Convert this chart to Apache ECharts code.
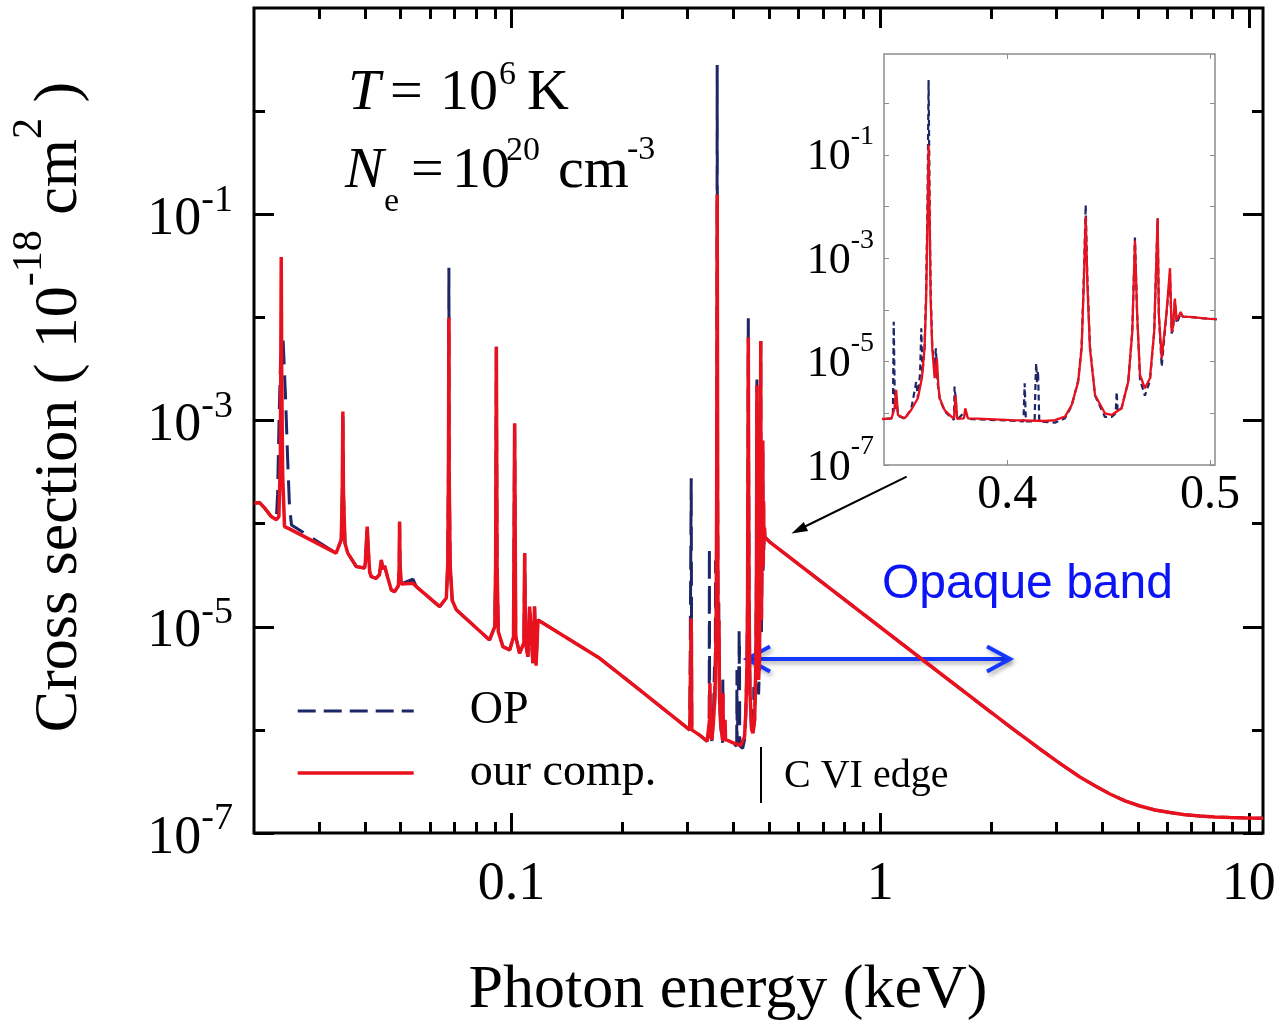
<!DOCTYPE html>
<html>
<head>
<meta charset="utf-8">
<title>Cross section vs photon energy</title>
<script src="https://cdn.jsdelivr.net/npm/echarts@6/dist/echarts.min.js"></script>
<style>
html, body { margin: 0; padding: 0; background: #fff; }
#chart { width: 1281px; height: 1026px; }
</style>
</head>
<body>
<div id="chart"></div>
<script>
// Photo-absorption cross section of carbon plasma (T = 1e6 K, Ne = 1e20 cm^-3).
// Energies in keV, cross sections in units of 1e-18 cm^2.

// ---- "our comp." (red, solid) ----
const ourBelowCK = [
  [0.02006, 1.58e-4], [0.0207, 1.60e-4], [0.02136, 1.42e-4], [0.02228, 1.17e-4], [0.02299, 1.09e-4],
  [0.02336, 1.17e-4], [0.02358, 4.0e-4], [0.02364, 3.0e-3], [0.02371, 3.86e-2], [0.02378, 3.0e-3],
  [0.02392, 3.0e-4], [0.0242, 9.35e-5], [0.02496, 8.9e-5], [0.0334, 5.17e-5],
  [0.0345, 7.0e-5], [0.03472, 2.0e-4], [0.03484, 1.22e-3], [0.03497, 2.0e-4], [0.0353, 6.5e-5],
  [0.0359, 5.2e-5], [0.0379, 3.83e-5], [0.0399, 3.72e-5],
  [0.0401, 4.2e-5], [0.0404, 7.0e-5], [0.04057, 9.35e-5], [0.0408, 6.0e-5], [0.0412, 3.4e-5],
  [0.0416, 3.06e-5], [0.0429, 2.95e-5], [0.0438, 3.2e-5], [0.04428, 4.45e-5], [0.0448, 3.6e-5],
  [0.04521, 3.9e-5], [0.04617, 2.95e-5], [0.04715, 2.28e-5], [0.04814, 2.19e-5],
  [0.0493, 2.5e-5], [0.04955, 4.0e-5], [0.04966, 1.045e-4], [0.0498, 4.0e-5], [0.0502, 2.6e-5],
  [0.05069, 2.54e-5], [0.05398, 2.64e-5], [0.05513, 2.45e-5], [0.0638, 1.57e-5],
  [0.0665, 1.9e-5], [0.0671, 4.0e-5], [0.0674, 3.0e-4], [0.06758, 9.9e-3], [0.0677, 3.0e-4],
  [0.0681, 4.0e-5], [0.069, 1.8e-5], [0.07079, 1.46e-5], [0.0871, 7.45e-6],
  [0.09, 1.0e-5], [0.0905, 4.0e-5], [0.0909, 5.18e-3], [0.0913, 4.0e-5], [0.092, 9.0e-6],
  [0.0947, 6.41e-6], [0.0988, 5.96e-6],
  [0.1012, 8.0e-6], [0.1019, 9.42e-4], [0.1026, 8.0e-6], [0.1051, 5.53e-6],
  [0.108, 7.0e-6], [0.1085, 5.17e-5], [0.1091, 7.0e-6], [0.1107, 5.13e-6], [0.1119, 1.57e-5],
  [0.1142, 4.43e-6], [0.1154, 1.57e-5], [0.1165, 4.2e-6], [0.1179, 1.165e-5],
  [0.1734, 4.94e-6], [0.2225, 2.44e-6], [0.3043, 9.98e-7],
  [0.306, 1.0e-6], [0.3071, 1.21e-5], [0.3082, 1.0e-6], [0.3237, 8.9e-7]
];
const ourCK = [
  [0.3392, 7.76e-7], [0.3429, 8.0e-7], [0.3444, 1.25e-6], [0.3452, 2.83e-6], [0.3461, 9.27e-7],
  [0.3494, 8.0e-7], [0.3526, 1.16e-6], [0.3559, 1.95e-6], [0.3579, 4.8e-6], [0.3592, 1.82e-5],
  [0.36, 1.66e-4], [0.3607, 6.86e-3], [0.3612, 0.155], [0.3617, 6.9e-3], [0.3622, 1.66e-4],
  [0.363, 1.82e-5], [0.3642, 4.8e-6], [0.3653, 1.15e-5], [0.366, 3.5e-6], [0.3667, 1.95e-6],
  [0.3691, 1.15e-6], [0.3724, 8.6e-7], [0.3737, 8.0e-7], [0.3745, 2.26e-6], [0.3753, 7.8e-7],
  [0.3786, 8.0e-7], [0.3793, 1.25e-6], [0.3806, 8.0e-7], [0.3855, 7.9e-7], [0.402, 7.4e-7],
  [0.4186, 7.1e-7], [0.4235, 7.4e-7], [0.4285, 8.6e-7], [0.4318, 1.45e-6], [0.435, 4.1e-6],
  [0.4367, 1.81e-5], [0.4378, 3.5e-4], [0.4387, 6.38e-3], [0.4395, 3.5e-4], [0.4408, 1.81e-5],
  [0.4433, 2.26e-6], [0.4482, 1.0e-6], [0.4515, 9.3e-7], [0.4564, 1.25e-6], [0.4597, 4.1e-6],
  [0.4617, 3.8e-5], [0.463, 2.2e-3], [0.4641, 8.0e-5], [0.4655, 5.5e-6], [0.4679, 3.05e-6],
  [0.4704, 4.75e-6], [0.4725, 3.8e-5], [0.4742, 5.9e-3], [0.4748, 8.0e-5], [0.4762, 1.16e-5],
  [0.4785, 8.0e-5], [0.4803, 6.4e-4], [0.4811, 3.8e-5], [0.4818, 4.7e-5], [0.4827, 1.65e-4],
  [0.4836, 6.3e-5], [0.4845, 6.3e-5], [0.4856, 9.1e-5], [0.4866, 7.4e-5], [0.49, 7.3e-5],
  [0.5, 6.7e-5]
];

// ---- OP (navy, dashed) ----
const opBelowCK = [
  [0.02006, 1.58e-4], [0.0207, 1.60e-4], [0.02136, 1.42e-4], [0.02228, 1.17e-4], [0.02299, 1.09e-4],
  [0.02317, 1.9e-4], [0.02339, 1.0e-3], [0.02361, 3.9e-3], [0.02399, 6.05e-3], [0.02437, 1.58e-3],
  [0.02468, 4.2e-4], [0.02496, 1.5e-4], [0.02528, 9.7e-5], [0.0271, 8.3e-5], [0.0334, 5.17e-5],
  [0.0345, 7.0e-5], [0.03472, 2.0e-4], [0.03484, 1.22e-3], [0.03497, 2.0e-4], [0.0353, 6.5e-5],
  [0.0359, 5.2e-5], [0.0379, 3.83e-5], [0.0399, 3.72e-5],
  [0.0401, 4.2e-5], [0.0404, 7.0e-5], [0.04057, 9.35e-5], [0.0408, 6.0e-5], [0.0412, 3.4e-5],
  [0.0416, 3.06e-5], [0.0429, 2.95e-5], [0.0438, 3.2e-5], [0.04428, 4.45e-5], [0.0448, 3.6e-5],
  [0.04521, 3.9e-5], [0.04617, 2.95e-5], [0.04715, 2.28e-5], [0.04814, 2.19e-5],
  [0.0493, 2.5e-5], [0.04955, 4.0e-5], [0.04966, 1.045e-4], [0.0498, 4.0e-5], [0.0502, 2.6e-5],
  [0.05069, 2.54e-5], [0.05398, 2.9e-5], [0.05513, 2.45e-5], [0.0638, 1.57e-5],
  [0.0665, 1.9e-5], [0.0671, 4.0e-5], [0.0674, 4.0e-4], [0.06758, 3.02e-2], [0.0677, 4.0e-4],
  [0.0681, 4.0e-5], [0.069, 1.8e-5], [0.07079, 1.46e-5], [0.0871, 7.45e-6],
  [0.09, 1.0e-5], [0.0905, 4.0e-5], [0.0909, 5.18e-3], [0.0913, 4.0e-5], [0.092, 9.0e-6],
  [0.0947, 6.41e-6], [0.0988, 5.96e-6],
  [0.1012, 8.0e-6], [0.1019, 9.42e-4], [0.1026, 8.0e-6], [0.1051, 5.53e-6],
  [0.108, 7.0e-6], [0.1085, 5.17e-5], [0.1091, 7.0e-6], [0.1107, 5.13e-6], [0.1119, 1.57e-5],
  [0.1142, 4.43e-6], [0.1154, 1.57e-5], [0.1165, 4.2e-6], [0.1179, 1.165e-5],
  [0.1734, 4.94e-6], [0.2225, 2.44e-6], [0.3043, 9.98e-7],
  [0.306, 1.0e-6], [0.3071, 2.75e-4], [0.3082, 1.0e-6], [0.3237, 8.9e-7]
];
const opCK = [
  [0.3392, 7.76e-7], [0.343, 8.0e-7], [0.3436, 1.0e-6], [0.344, 5.9e-5], [0.3446, 1.2e-6],
  [0.3452, 2.5e-6], [0.3461, 9.0e-7], [0.3494, 7.8e-7], [0.3526, 1.2e-6], [0.3545, 3.0e-6],
  [0.3551, 4.1e-6], [0.3559, 2.0e-6], [0.357, 6.0e-6], [0.3576, 4.4e-5], [0.3582, 6.0e-6],
  [0.3592, 1.82e-5], [0.36, 2.5e-4], [0.3607, 1.5e-2], [0.3612, 2.8], [0.3617, 1.5e-2],
  [0.3622, 2.5e-4], [0.363, 2.0e-5], [0.3642, 8.0e-6], [0.3648, 1.8e-5], [0.3656, 4.0e-6],
  [0.3667, 1.9e-6], [0.3691, 1.1e-6], [0.3724, 8.2e-7], [0.3737, 7.5e-7], [0.374, 3.3e-6],
  [0.3745, 2.0e-6], [0.3753, 7.5e-7], [0.3793, 1.1e-6], [0.3806, 7.8e-7], [0.3855, 7.6e-7],
  [0.402, 7.2e-7], [0.408, 7.0e-7], [0.4086, 3.8e-6], [0.4092, 7.0e-7], [0.4135, 7.0e-7],
  [0.414, 5.0e-6], [0.4143, 9.3e-6], [0.4147, 4.0e-6], [0.4152, 6.5e-6], [0.4158, 7.0e-7],
  [0.4186, 6.8e-7], [0.4235, 6.6e-7], [0.4285, 8.0e-7], [0.4318, 1.4e-6], [0.435, 4.3e-6],
  [0.4367, 2.0e-5], [0.4378, 4.5e-4], [0.4387, 1.07e-2], [0.4395, 4.5e-4], [0.4408, 2.0e-5],
  [0.4433, 2.2e-6], [0.4482, 8.5e-7], [0.4515, 8.5e-7], [0.4535, 1.0e-6], [0.454, 2.6e-6],
  [0.4545, 1.1e-6], [0.4564, 1.25e-6], [0.4597, 4.1e-6], [0.4617, 4.0e-5], [0.463, 2.5e-3],
  [0.4641, 8.0e-5], [0.4655, 4.5e-6], [0.4679, 2.2e-6], [0.4704, 4.2e-6], [0.4725, 3.8e-5],
  [0.4742, 5.9e-3], [0.4748, 8.0e-5], [0.4762, 8.0e-6], [0.4785, 8.0e-5], [0.4803, 5.0e-4],
  [0.4811, 3.5e-5], [0.4818, 4.2e-5], [0.4827, 1.5e-4], [0.4836, 5.5e-5], [0.4845, 5.8e-5],
  [0.4856, 8.5e-5], [0.4866, 7.4e-5], [0.49, 7.3e-5], [0.5, 6.7e-5]
];

// Above the C VI edge both calculations coincide.
const aboveEdge = [
  [1.451, 3.56e-6], [1.984, 1.508e-6], [2.319, 9.87e-7], [2.712, 6.53e-7], [3.073, 4.73e-7],
  [3.482, 3.49e-7], [3.824, 2.87e-7], [4.201, 2.39e-7], [4.613, 2.052e-7], [5.068, 1.827e-7],
  [5.564, 1.671e-7], [6.111, 1.58e-7], [6.711, 1.503e-7], [7.371, 1.462e-7], [8.096, 1.429e-7],
  [8.89, 1.413e-7], [9.827, 1.401e-7], [10.93, 1.388e-7]
];

// ---- axes ----
const energyRange = [0.02, 10.93];
const sigmaRange = [1e-7, 10];
const majorEnergyTicks = [0.1, 1, 10];
const minorEnergyTicks = [0.03, 0.04, 0.05, 0.06, 0.07, 0.08, 0.09,
  0.2, 0.3, 0.4, 0.5, 0.6, 0.7, 0.8, 0.9, 2, 3, 4, 5, 6, 7, 8, 9];
const labelledDecades = [-7, -5, -3, -1];
const unlabelledDecades = [-6, -4, -2, 0];

const insetEnergyRange = [0.3392, 0.5025];
const insetSigmaRange = [1e-7, 8.9];
const insetEnergyTicks = [0.4, 0.5];
const insetDecadeTicks = [-7, -6, -5, -4, -3, -2, -1, 0];

const SERIF = '"Liberation Serif", "Times New Roman", serif';
const SANS = '"Liberation Sans", Arial, sans-serif';
const RED = '#e8111d';
const NAVY = '#1d2768';
const lg = Math.log10;

const ours = ourBelowCK.concat(ourCK, aboveEdge);
const op = opBelowCK.concat(opCK, aboveEdge);
const logLog = arr => arr.map(p => [lg(p[0]), lg(p[1])]);
const linLog = arr => arr.map(p => [p[0], lg(p[1])]);

// "10" with a raised exponent: the base token is anchored to the bottom of a
// tall line, the exponent to its top.
function powerLabel(baseSize, supSize, lift) {
  return {
    b: { fontFamily: SERIF, fontSize: baseSize, lineHeight: lift + baseSize / 2 + supSize / 2, verticalAlign: 'bottom', color: '#000' },
    s: { fontFamily: SERIF, fontSize: supSize, lineHeight: supSize, verticalAlign: 'top', color: '#000' }
  };
}
const powerFormatter = v => '{b|10}{s|' + Math.round(v) + '}';

const noLine = { show: false, onZero: false };

function mainX(position, ticks, len, labels) {
  return {
    type: 'value', gridIndex: 0, position,
    min: lg(energyRange[0]), max: lg(energyRange[1]),
    axisLine: noLine, splitLine: { show: false },
    axisTick: { show: true, inside: true, length: len, lineStyle: { color: '#000', width: 3 }, customValues: ticks.map(lg) },
    axisLabel: labels ? {
      show: true, customValues: ticks.map(lg), margin: 25,
      formatter: v => String(parseFloat(Math.pow(10, v).toPrecision(3))),
      fontFamily: SERIF, fontSize: 54, lineHeight: 54, color: '#000'
    } : { show: false }
  };
}
function mainY(position, ticks, len, labels) {
  return {
    type: 'value', gridIndex: 0, position,
    min: lg(sigmaRange[0]), max: lg(sigmaRange[1]),
    axisLine: noLine, splitLine: { show: false },
    axisTick: { show: true, inside: true, length: len, lineStyle: { color: '#000', width: 3 }, customValues: ticks },
    axisLabel: labels ? {
      show: true, customValues: ticks, margin: 21,
      formatter: powerFormatter, rich: powerLabel(54, 38, 19)
    } : { show: false }
  };
}
function insetX(position, labels) {
  return {
    type: 'value', gridIndex: 1, position,
    min: insetEnergyRange[0], max: insetEnergyRange[1],
    axisLine: noLine, splitLine: { show: false },
    axisTick: { show: true, inside: true, length: 5, lineStyle: { color: '#8c8c8c', width: 1 }, customValues: insetEnergyTicks },
    axisLabel: labels ? {
      show: true, customValues: insetEnergyTicks, margin: 6,
      formatter: v => v.toFixed(1),
      fontFamily: SERIF, fontSize: 48, lineHeight: 48, color: '#000'
    } : { show: false }
  };
}
function insetY(position, labels) {
  return {
    type: 'value', gridIndex: 1, position,
    min: lg(insetSigmaRange[0]), max: lg(insetSigmaRange[1]),
    axisLine: noLine, splitLine: { show: false },
    axisTick: { show: true, inside: true, length: 5, lineStyle: { color: '#8c8c8c', width: 1 }, customValues: insetDecadeTicks },
    axisLabel: labels ? {
      show: true, customValues: labelledDecades, margin: 10, padding: [0, 0, 7, 0],
      formatter: powerFormatter, rich: powerLabel(44, 28, 21)
    } : { show: false }
  };
}

function txt(x, y, text, size, extra) {
  return {
    type: 'text', x, y, z: 100,
    style: Object.assign({ text, fontFamily: SERIF, fontSize: size, fill: '#000', align: 'left', verticalAlign: 'middle' }, extra || {})
  };
}

const arrowShadow = { shadowBlur: 4, shadowColor: 'rgba(0,0,0,0.3)', shadowOffsetX: 2, shadowOffsetY: 3 };

const chart = echarts.init(document.getElementById('chart'), null, { renderer: 'canvas' });
chart.setOption({
  animation: false,
  backgroundColor: '#fff',
  grid: [
    { left: 254, top: 8, width: 1009, height: 825, show: true, borderColor: '#000', borderWidth: 3, backgroundColor: 'transparent', outerBoundsMode: 'none' },
    { left: 884, top: 54, width: 331, height: 411, show: true, borderColor: '#8c8c8c', borderWidth: 1.5, backgroundColor: '#fff', outerBoundsMode: 'none' }
  ],
  xAxis: [
    mainX('bottom', majorEnergyTicks, 20, true),
    mainX('bottom', minorEnergyTicks, 11, false),
    mainX('top', majorEnergyTicks, 20, false),
    mainX('top', minorEnergyTicks, 11, false),
    insetX('bottom', true),
    insetX('top', false)
  ],
  yAxis: [
    mainY('left', labelledDecades, 20, true),
    mainY('left', unlabelledDecades, 11, false),
    mainY('right', labelledDecades, 20, false),
    mainY('right', unlabelledDecades, 11, false),
    insetY('left', true),
    insetY('right', false)
  ],
  legend: {
    left: 291, top: 683, orient: 'vertical',
    itemWidth: 116, itemHeight: 14, itemGap: 16, selectedMode: false,
    itemStyle: { color: 'rgba(0,0,0,0)', borderWidth: 0 },
    data: [
      { name: 'OP', lineStyle: { type: [18, 8], width: 3, color: NAVY } },
      { name: 'our comp.', lineStyle: { width: 3.4, color: RED } }
    ],
    formatter: name => '{g|}{t|' + name + '}',
    textStyle: {
      fontFamily: SERIF, fontSize: 46, lineHeight: 46, color: '#000',
      rich: { g: { width: 51 }, t: { fontFamily: SERIF, fontSize: 46, lineHeight: 46, color: '#000' } }
    }
  },
  series: [
    {
      name: 'OP', type: 'line', xAxisIndex: 0, yAxisIndex: 0, data: logLog(op),
      symbol: 'none', silent: true, z: 2,
      lineStyle: { color: NAVY, width: 3, type: [24, 11] }
    },
    {
      name: 'our comp.', type: 'line', xAxisIndex: 0, yAxisIndex: 0, data: logLog(ours),
      symbol: 'none', silent: true, z: 3,
      lineStyle: { color: RED, width: 3.5 }
    },
    {
      name: 'OP', type: 'line', xAxisIndex: 4, yAxisIndex: 4, data: linLog(op),
      symbol: 'none', silent: true, z: 4,
      lineStyle: { color: NAVY, width: 2.2, type: [6, 4] }
    },
    {
      name: 'our comp.', type: 'line', xAxisIndex: 4, yAxisIndex: 4, data: linLog(ours),
      symbol: 'none', silent: true, z: 5,
      lineStyle: { color: RED, width: 2.3 }
    }
  ],
  graphic: [
    // axis titles
    txt(728, 991, 'Photon energy (keV)', 62, { align: 'center' }),
    {
      type: 'text', x: 50, y: 407, rotation: Math.PI / 2, z: 100,
      style: {
        text: '{b|Cross section ( 10}{s|-18}{b| cm}{s|2}{b| )}',
        align: 'center', verticalAlign: 'middle',
        rich: {
          b: { fontFamily: SERIF, fontSize: 62, lineHeight: 82, verticalAlign: 'bottom', fill: '#000' },
          s: { fontFamily: SERIF, fontSize: 42, lineHeight: 42, verticalAlign: 'top', fill: '#000' }
        }
      }
    },
    // plasma conditions
    txt(348, 94, 'T', 58, { fontStyle: 'italic' }),
    txt(390, 94, '=', 58),
    txt(440, 94, '10', 58),
    txt(499, 75, '6', 34),
    txt(527, 94, 'K', 58),
    txt(345, 172, 'N', 58, { fontStyle: 'italic' }),
    txt(384, 202, 'e', 34),
    txt(411, 172, '=', 58),
    txt(452, 172, '10', 58),
    txt(506, 151, '20', 34),
    txt(558, 172, 'cm', 58),
    txt(627, 150, '-3', 34),
    // C VI edge marker
    { type: 'line', z: 100, shape: { x1: 761, y1: 747, x2: 761, y2: 803 }, style: { stroke: '#000', lineWidth: 2 } },
    txt(784, 776, 'C VI edge', 40),
    // pointer to the inset
    { type: 'line', z: 100, shape: { x1: 906.7, y1: 476.7, x2: 804, y2: 527 }, style: { stroke: '#000', lineWidth: 2 } },
    { type: 'polygon', z: 100, shape: { points: [[791.5, 533.5], [808.1, 530.9], [803.7, 521.9]] }, style: { fill: '#000' } },
    // opaque band
    txt(882, 585, 'Opaque band', 48, { fontFamily: SANS, fill: '#0b14f5' }),
    {
      type: 'group', z: 100,
      children: [
        { type: 'line', shape: { x1: 749, y1: 659, x2: 1008, y2: 659 },
          style: Object.assign({ stroke: '#1438ff', lineWidth: 4 }, arrowShadow) },
        { type: 'polyline', shape: { points: [[770, 646.5], [747, 659], [770, 671.5]] },
          style: Object.assign({ stroke: '#1438ff', lineWidth: 4, fill: null, lineJoin: 'miter' }, arrowShadow) },
        { type: 'polyline', shape: { points: [[987, 646.5], [1010, 659], [987, 671.5]] },
          style: Object.assign({ stroke: '#1438ff', lineWidth: 4, fill: null, lineJoin: 'miter' }, arrowShadow) }
      ]
    }
  ]
});
</script>
</body>
</html>
